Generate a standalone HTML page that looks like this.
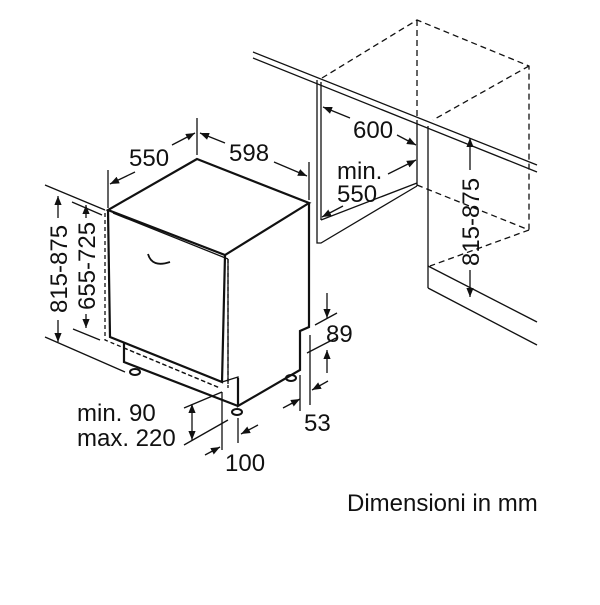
<!DOCTYPE html>
<html><head><style>
body{margin:0;background:#fff}
svg text{font-family:"Liberation Sans",Arial,sans-serif;font-size:24px;fill:#111}
</style></head><body>
<svg width="600" height="600" viewBox="0 0 600 600" xmlns="http://www.w3.org/2000/svg">
<defs><marker id="a" viewBox="0 0 10 10" refX="10" refY="5" markerWidth="7" markerHeight="7" orient="auto-start-reverse"><path d="M0,1 L10,5 L0,9 z" fill="#111"/></marker></defs>
<g stroke="#111" fill="none" stroke-width="1.3">
<line x1="253" y1="52" x2="537" y2="165"/>
<line x1="253" y1="58" x2="537" y2="172"/>
<line x1="317" y1="80" x2="317" y2="220"/>
<line x1="321" y1="82" x2="321" y2="220"/>
<polyline points="317,220 317,243 321,243 417,186"/>
<line x1="321" y1="220" x2="417" y2="183"/>
<line x1="417" y1="122" x2="417" y2="186"/>
<line x1="428" y1="126" x2="428" y2="288"/>
<line x1="428" y1="266" x2="537" y2="322"/>
<line x1="428" y1="288" x2="537" y2="345"/>
<g stroke-dasharray="6,4">
<polyline points="322,78 417,20 529,66 529,230"/>
<line x1="417" y1="20" x2="417" y2="122"/>
<line x1="529" y1="66" x2="433" y2="120"/>
<line x1="417" y1="185" x2="529" y2="230"/>
<line x1="529" y1="230" x2="430" y2="266"/>
</g>
<g stroke-width="2.2">
<polygon points="197,159 309,203 225,255 108,210"/>
<polyline points="108,210 110,337 222,382 225,255"/>
<polyline points="309,203 309,327 300,331 300,370 238,406 238,378"/>
<polyline points="124,343 124,362 238,406"/>
<path d="M148,254 Q152,268 170,262" stroke-width="1.8"/>
</g>
<line x1="113" y1="213" x2="228" y2="259"/>
<line x1="228" y1="259" x2="228" y2="384"/>
<polyline points="222,382 238,377 238,404"/>
<g stroke-dasharray="4,3">
<polyline points="105,213 105,340 220,388"/>
<line x1="228" y1="259" x2="228" y2="388"/>
<line x1="124" y1="348" x2="220" y2="388"/>
</g>
<ellipse cx="135" cy="372" rx="5" ry="3" stroke-width="2"/>
<ellipse cx="237" cy="412" rx="5" ry="3" stroke-width="2"/>
<ellipse cx="291" cy="378" rx="5" ry="3" stroke-width="2"/>
<line x1="108" y1="170" x2="108" y2="208"/>
<line x1="197" y1="118" x2="197" y2="155"/>
<line x1="309" y1="162" x2="309" y2="200"/>
<line x1="110" y1="184" x2="135" y2="172" marker-start="url(#a)"/>
<line x1="172" y1="145" x2="195" y2="133" marker-end="url(#a)"/>
<line x1="200" y1="133" x2="225" y2="143" marker-start="url(#a)"/>
<line x1="274" y1="162" x2="307" y2="176" marker-end="url(#a)"/>
<line x1="323" y1="107" x2="350" y2="118" marker-start="url(#a)"/>
<line x1="397" y1="135" x2="416" y2="145" marker-end="url(#a)"/>
<line x1="388" y1="174" x2="416" y2="160" marker-end="url(#a)"/>
<line x1="322" y1="217" x2="343" y2="206" marker-start="url(#a)"/>
<line x1="470" y1="138" x2="470" y2="170" marker-start="url(#a)"/>
<line x1="470" y1="270" x2="470" y2="297" marker-end="url(#a)"/>
<line x1="45" y1="185" x2="105" y2="210"/>
<line x1="45" y1="337" x2="125" y2="372"/>
<line x1="58" y1="196" x2="58" y2="218" marker-start="url(#a)"/>
<line x1="58" y1="320" x2="58" y2="342" marker-end="url(#a)"/>
<line x1="72" y1="202" x2="102" y2="215"/>
<line x1="73" y1="329" x2="100" y2="340"/>
<line x1="86" y1="205" x2="86" y2="218" marker-start="url(#a)"/>
<line x1="86" y1="314" x2="86" y2="328" marker-end="url(#a)"/>
<line x1="315" y1="325" x2="337" y2="313"/>
<line x1="307" y1="353" x2="336" y2="338"/>
<line x1="327" y1="293" x2="327" y2="318" marker-end="url(#a)"/>
<line x1="327" y1="373" x2="327" y2="350" marker-end="url(#a)"/>
<line x1="310" y1="335" x2="310" y2="405"/>
<line x1="300" y1="375" x2="300" y2="411"/>
<line x1="283" y1="408" x2="300" y2="399" marker-end="url(#a)"/>
<line x1="328" y1="381" x2="312" y2="390" marker-end="url(#a)"/>
<line x1="184" y1="408" x2="222" y2="392"/>
<line x1="184" y1="445" x2="228" y2="420"/>
<line x1="192" y1="404" x2="192" y2="440" marker-start="url(#a)" marker-end="url(#a)"/>
<line x1="222" y1="392" x2="222" y2="450"/>
<line x1="238" y1="418" x2="238" y2="443"/>
<line x1="205" y1="455" x2="220" y2="447" marker-end="url(#a)"/>
<line x1="258" y1="425" x2="241" y2="434" marker-end="url(#a)"/>
</g>
<text x="129" y="166">550</text>
<text x="229" y="161">598</text>
<text x="353" y="138">600</text>
<text x="337" y="179">min.</text>
<text x="337" y="202">550</text>
<text transform="translate(479,222) rotate(-90)" text-anchor="middle">815-875</text>
<text transform="translate(67,269) rotate(-90)" text-anchor="middle">815-875</text>
<text transform="translate(95,266) rotate(-90)" text-anchor="middle">655-725</text>
<text x="326" y="342">89</text>
<text x="304" y="431">53</text>
<text x="77" y="421">min. 90</text>
<text x="77" y="446">max. 220</text>
<text x="225" y="471">100</text>
<text x="347" y="511">Dimensioni in mm</text>
</svg>
</body></html>
